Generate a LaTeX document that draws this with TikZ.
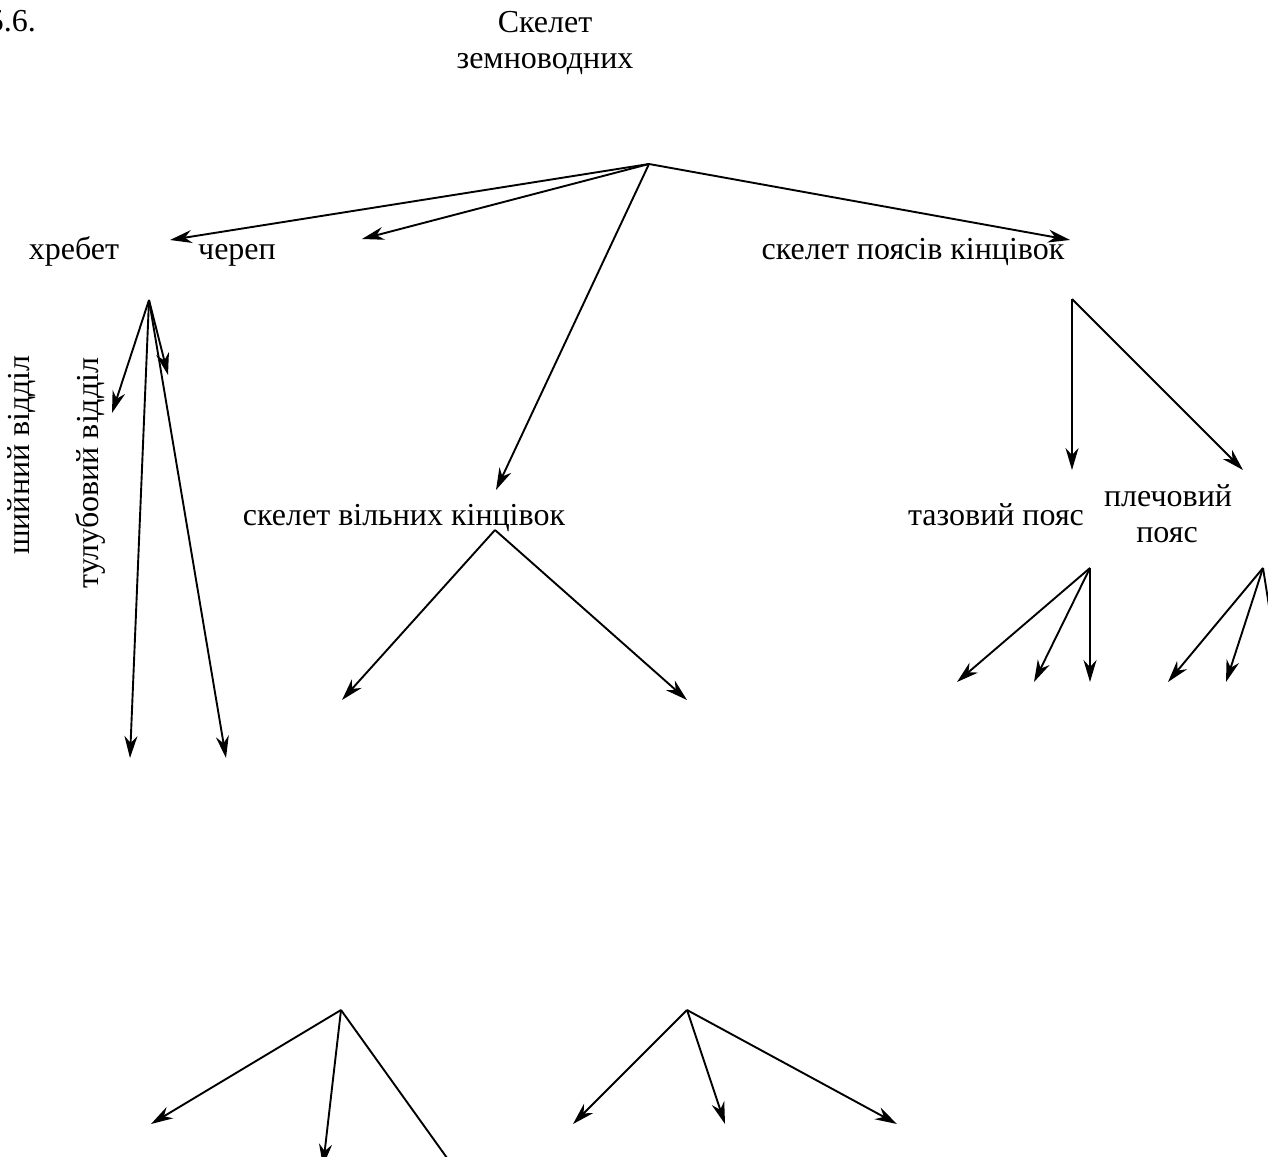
\documentclass[tikz,border=0pt]{standalone}
\usepackage{fontspec}
\setmainfont{Liberation Serif}[Ligatures=TeX]
\usetikzlibrary{arrows.meta}
\begin{document}
\begin{tikzpicture}[x=1pt,y=-1pt,
  lbl/.style={font=\fontsize{32}{38}\selectfont, inner sep=0pt, anchor=base},
  vlbl/.style={lbl, rotate=90},
  conn/.style={line width=1.9pt, -{Stealth[length=22pt,width=13pt,inset=7pt]}},
  plain/.style={line width=1.9pt}]
\useasboundingbox (0,0) rectangle (1268,1156);
% labels
\node[lbl, anchor=base east] (fig) at (36,32) {5.6.};
\node[lbl] (t1) at (545,33) {Скелет};
\node[lbl] (t2) at (545,68) {земноводних};
\node[lbl] (hreb) at (74,259) {хребет};
\node[lbl] (cher) at (237,259) {череп};
\node[lbl] (poyas) at (913,259) {скелет поясів кінцівок};
\node[lbl] (vil) at (404,525) {скелет вільних кінцівок};
\node[lbl] (taz) at (996,525) {тазовий пояс};
\node[lbl] (plech1) at (1168,506) {плечовий};
\node[lbl] (plech2) at (1167,542) {пояс};
\node[vlbl] (shiy) at (29,455) {шийний відділ};
\node[vlbl] (tul) at (98,473) {тулубовий відділ};
% branching points
\coordinate (R) at (649,164);
\coordinate (H) at (149,300);
\coordinate (P) at (1072,299);
\coordinate (V) at (495,530);
\coordinate (T) at (1090,568);
\coordinate (Q) at (1263,568);
\coordinate (A) at (341,1010);
\coordinate (B) at (687,1010);
% free ends
\coordinate (r1) at (170,240);
\coordinate (r2) at (362,239);
\coordinate (r3) at (496,490);
\coordinate (r4) at (1070,240);
\coordinate (h1) at (112,413);
\coordinate (h2) at (168,375);
\coordinate (h3) at (130,758);
\coordinate (h4) at (226,758);
\coordinate (p1) at (1072,470);
\coordinate (p2) at (1243,470);
\coordinate (v1) at (342,700);
\coordinate (v2) at (687,700);
\coordinate (t1e) at (957,682);
\coordinate (t2e) at (1034,682);
\coordinate (t3e) at (1090,682);
\coordinate (q1) at (1168,682);
\coordinate (q2) at (1226,682);
\coordinate (q3) at (1281,682);
\coordinate (a1) at (151,1124);
\coordinate (a2) at (323,1166);
\coordinate (a3) at (470,1190);
\coordinate (b1) at (573,1124);
\coordinate (b2) at (725,1124);
\coordinate (b3) at (897,1124);
% connectors
\foreach \e in {r1,r2,r3,r4} \draw[conn] (R) -- (\e);
\foreach \e in {h1,h2,h3,h4} \draw[conn] (H) -- (\e);
\foreach \e in {p1,p2} \draw[conn] (P) -- (\e);
\foreach \e in {v1,v2} \draw[conn] (V) -- (\e);
\foreach \e in {t1e,t2e,t3e} \draw[conn] (T) -- (\e);
\foreach \e in {q1,q2,q3} \draw[conn] (Q) -- (\e);
\foreach \e in {a1,a2} \draw[conn] (A) -- (\e);
\draw[plain] (A) -- (a3);
\foreach \e in {b1,b2,b3} \draw[conn] (B) -- (\e);
\end{tikzpicture}
\end{document}
